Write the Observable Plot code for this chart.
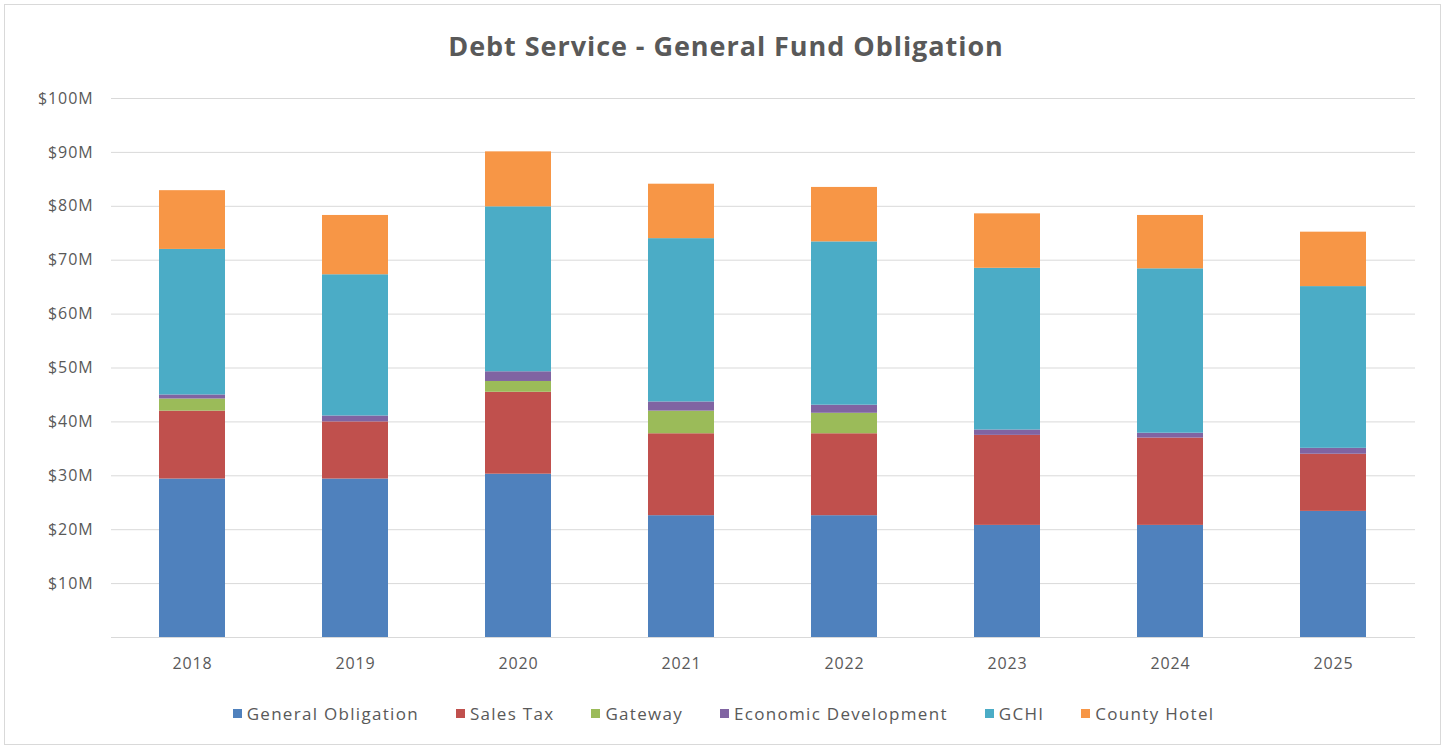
<!DOCTYPE html>
<html>
<head>
<meta charset="utf-8">
<script src="https://cdn.jsdelivr.net/npm/d3@7"></script>
<script src="https://cdn.jsdelivr.net/npm/@observablehq/plot@0.6"></script>
<style>
  html, body { margin: 0; padding: 0; background: #fff; }
  body { width: 1447px; height: 751px; position: relative; overflow: hidden; font-family: "Open Sans", "Noto Sans", sans-serif; }
  #frame { position: absolute; left: 4px; top: 4px; width: 1437px; height: 741px; border: 1px solid #d9d9d9; box-sizing: border-box; }
  #title { position: absolute; left: 0; top: 26px; width: 1452px; text-align: center; font-size: 27px; line-height: 40px; font-weight: bold; color: #595959; letter-spacing: 0.95px; }
  #chart { position: absolute; left: 0; top: 70px; }
  #legend { position: absolute; left: 0; top: 702px; width: 1447px; display: flex; justify-content: center; gap: 37px; font-size: 17px; color: #595959; letter-spacing: 1.3px; }
  .item { display: flex; align-items: center; gap: 5px; }
  .sw { width: 9px; height: 9px; display: inline-block; }
  #chart svg text { letter-spacing: 0.9px; }
</style>
</head>
<body>
<div id="frame"></div>
<div id="title">Debt Service - General Fund Obligation</div>
<div id="chart"></div>
<div id="legend"></div>
<script>
const years = ["2018", "2019", "2020", "2021", "2022", "2023", "2024", "2025"];
const seriesNames = ["General Obligation", "Sales Tax", "Gateway", "Economic Development", "GCHI", "County Hotel"];
const seriesColors = ["#4f81bd", "#c0504d", "#9bbb59", "#8064a2", "#4bacc6", "#f79646"];
// values in $ millions
const generalObligation   = [29.4, 29.4, 30.3, 22.6, 22.6, 20.8, 20.8, 23.4];
const salesTax            = [12.6, 10.6, 15.2, 15.2, 15.2, 16.7, 16.2, 10.6];
const gateway             = [2.25, 0,    2.0,  4.2,  3.8,  0,    0,    0];
const economicDevelopment = [0.75, 1.1,  1.8,  1.7,  1.5,  1.0,  0.9,  1.1];
const gchi                = [27.0, 26.2, 30.6, 30.3, 30.3, 30.0, 30.5, 30.0];
const countyHotel         = [10.9, 11.0, 10.2, 10.1, 10.1, 10.1, 9.9,  10.1];
const yTicks = [0, 10, 20, 30, 40, 50, 60, 70, 80, 90, 100];

const seriesValues = [generalObligation, salesTax, gateway, economicDevelopment, gchi, countyHotel];
const rows = years.flatMap((year, i) =>
  seriesNames.map((name, k) => ({ year, series: name, value: seriesValues[k][i] }))
);

const chart = Plot.plot({
  width: 1447,
  height: 612,
  marginLeft: 111,
  marginRight: 32,
  marginTop: 28,
  marginBottom: 45,
  style: { fontFamily: "'Open Sans', 'Noto Sans', sans-serif", fontSize: "16px", color: "#595959", background: "transparent" },
  x: { domain: years, paddingInner: 0.595, paddingOuter: 0.2975, label: null },
  y: { domain: [0, 100], label: null },
  color: { domain: seriesNames, range: seriesColors },
  marks: [
    Plot.gridY(yTicks, { stroke: "#d9d9d9", strokeOpacity: 1, strokeWidth: 1 }),
    Plot.axisY(yTicks, { tickSize: 0, tickPadding: 18, tickFormat: d => d === 0 ? "" : `$${d}M`, fill: "#595959", label: null }),
    Plot.axisX({ tickSize: 0, tickPadding: 20, fill: "#595959", label: null }),
    Plot.barY(rows, { x: "year", y: "value", fill: "series", order: seriesNames })
  ]
});
document.getElementById("chart").appendChild(chart);

const legend = document.getElementById("legend");
seriesNames.forEach((name, k) => {
  const item = document.createElement("div");
  item.className = "item";
  const sw = document.createElement("span");
  sw.className = "sw";
  sw.style.background = seriesColors[k];
  const label = document.createElement("span");
  label.textContent = name;
  item.appendChild(sw);
  item.appendChild(label);
  legend.appendChild(item);
});
</script>
</body>
</html>
